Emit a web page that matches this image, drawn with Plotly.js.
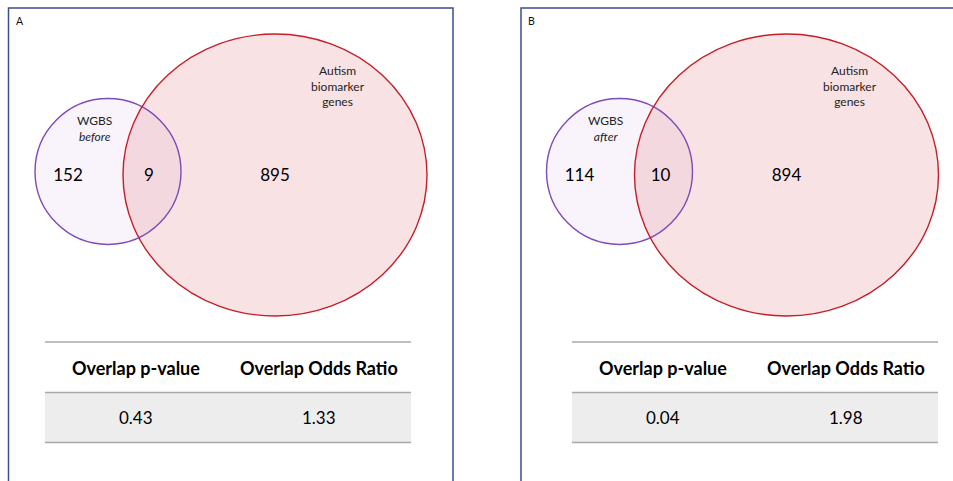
<!DOCTYPE html>
<html>
<head>
<meta charset="utf-8">
<script src="https://cdn.plot.ly/plotly-3.0.1.min.js"></script>
<style>html,body{margin:0;padding:0;background:#fff;}#chart{width:953px;height:481px;}</style>
</head>
<body>
<div id="chart"></div>
<script>
// ---- data ----
const panelLabels = ['A', 'B'];
const wgbsStates = ['before', 'after'];
const wgbsOnly = [152, 114];
const overlapCounts = [9, 10];
const autismOnly = [895, 894];
const setNameWgbs = 'WGBS';
const setNameAutism = 'Autism<br>biomarker<br>genes';
const tableHeaders = ['Overlap p-value', 'Overlap Odds Ratio'];
const pValues = ['0.43', '0.04'];
const oddsRatios = ['1.33', '1.98'];

// ---- layout geometry (pixel-like axis units) ----
const W = 953, H = 481;
const vennOffset = [0, 511.5];
const tableOffset = [0, 527];
const FONT = 'Lato, "Open Sans", sans-serif';
const geo = {
  purple: {cx: 108, cy: 171.5, r: 73},
  red: {cx: 275, cy: 175, rx: 152, ry: 141},
  wgbsLabel: {x: 94, y: 128.5},
  autismLabel: {x: 338, y: 86},
  countY: 177,
  countX: [68, 149, 275],
  table: {x0: 45, x1: 411, yTop: 342, yMid: 392.5, yBot: 442.5, col: [136, 319], headY: 368, valY: 417},
  border: {x0: 8.5, x1: 453, y0: 8, y1: 500},
  panelLbl: {x: 20, y: 21}
};
const borderB = {x0: 521, x1: 970};

const shapes = [];
const annotations = [];
const traces = [];

panelLabels.forEach((lbl, i) => {
  const dx = vennOffset[i], tx = tableOffset[i];
  const p = geo.purple, r = geo.red, t = geo.table;
  const bx0 = i === 0 ? geo.border.x0 : borderB.x0;
  const bx1 = i === 0 ? geo.border.x1 : borderB.x1;
  // panel border
  shapes.push({type: 'rect', xref: 'x', yref: 'y', x0: bx0, x1: bx1, y0: geo.border.y0, y1: geo.border.y1,
    line: {color: '#3b4f8e', width: 1.5}, fillcolor: 'rgba(0,0,0,0)', layer: 'below'});
  // fills
  shapes.push({type: 'circle', xref: 'x', yref: 'y', x0: p.cx + dx - p.r, x1: p.cx + dx + p.r, y0: p.cy - p.r, y1: p.cy + p.r,
    fillcolor: '#f9f4fb', line: {width: 0}, layer: 'below'});
  shapes.push({type: 'circle', xref: 'x', yref: 'y', x0: r.cx + dx - r.rx, x1: r.cx + dx + r.rx, y0: r.cy - r.ry, y1: r.cy + r.ry,
    fillcolor: 'rgba(214,70,85,0.155)', line: {width: 0}, layer: 'below'});
  // outlines
  shapes.push({type: 'circle', xref: 'x', yref: 'y', x0: p.cx + dx - p.r, x1: p.cx + dx + p.r, y0: p.cy - p.r, y1: p.cy + p.r,
    fillcolor: 'rgba(0,0,0,0)', line: {color: '#7f4bb6', width: 1.4}, layer: 'below'});
  shapes.push({type: 'circle', xref: 'x', yref: 'y', x0: r.cx + dx - r.rx, x1: r.cx + dx + r.rx, y0: r.cy - r.ry, y1: r.cy + r.ry,
    fillcolor: 'rgba(0,0,0,0)', line: {color: '#c41e27', width: 1.4}, layer: 'below'});
  // table
  shapes.push({type: 'rect', xref: 'x', yref: 'y', x0: t.x0 + tx, x1: t.x1 + tx, y0: t.yMid, y1: t.yBot,
    fillcolor: '#ededed', line: {width: 0}, layer: 'below'});
  [t.yTop, t.yMid, t.yBot].forEach(y => {
    shapes.push({type: 'line', xref: 'x', yref: 'y', x0: t.x0 + tx, x1: t.x1 + tx, y0: y, y1: y,
      line: {color: '#a9a9a9', width: 1.5}, layer: 'below'});
  });
  tableHeaders.forEach((h, j) => {
    annotations.push({xref: 'x', yref: 'y', x: t.col[j] + tx, y: t.headY, text: '<b>' + h + '</b>', showarrow: false,
      font: {family: FONT, size: 18, color: '#000'}, xanchor: 'center', yanchor: 'middle'});
  });
  [pValues[i], oddsRatios[i]].forEach((v, j) => {
    annotations.push({xref: 'x', yref: 'y', x: t.col[j] + tx, y: t.valY, text: v, showarrow: false,
      font: {family: FONT, size: 17, color: '#000'}, xanchor: 'center', yanchor: 'middle'});
  });
  // labels
  annotations.push({xref: 'x', yref: 'y', x: geo.panelLbl.x + dx, y: geo.panelLbl.y, text: lbl, showarrow: false,
    font: {family: FONT, size: 10.5, color: '#111'}, xanchor: 'center', yanchor: 'middle'});
  annotations.push({xref: 'x', yref: 'y', x: geo.wgbsLabel.x + dx, y: geo.wgbsLabel.y, text: setNameWgbs + '<br><i>' + wgbsStates[i] + '</i>',
    showarrow: false, font: {family: FONT, size: 12, color: '#222'}, xanchor: 'center', yanchor: 'middle'});
  annotations.push({xref: 'x', yref: 'y', x: geo.autismLabel.x + dx, y: geo.autismLabel.y, text: setNameAutism,
    showarrow: false, font: {family: FONT, size: 12, color: '#222'}, xanchor: 'center', yanchor: 'middle'});
  // counts
  traces.push({type: 'scatter', mode: 'text', hoverinfo: 'skip', showlegend: false,
    x: geo.countX.map(x => x + dx), y: [geo.countY, geo.countY, geo.countY],
    text: [wgbsOnly[i], overlapCounts[i], autismOnly[i]].map(String),
    textposition: 'middle center', textfont: {family: FONT, size: 17, color: '#000'}});
});

const layout = {
  width: W, height: H,
  margin: {l: 0, r: 0, t: 0, b: 0},
  paper_bgcolor: '#fff', plot_bgcolor: '#fff',
  xaxis: {range: [0, W], visible: false, fixedrange: true},
  yaxis: {range: [H, 0], visible: false, fixedrange: true},
  shapes: shapes,
  annotations: annotations,
  showlegend: false
};
Plotly.newPlot('chart', traces, layout, {staticPlot: true, displayModeBar: false});
</script>
</body>
</html>
